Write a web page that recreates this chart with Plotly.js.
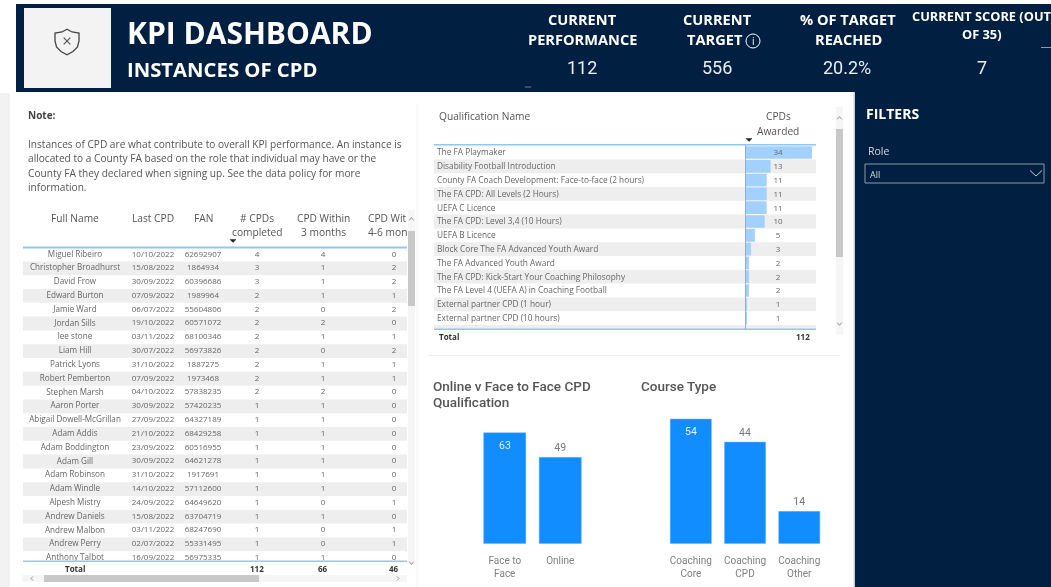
<!DOCTYPE html>
<html><head><meta charset="utf-8">
<script src="https://cdn.plot.ly/plotly-3.0.1.min.js"></script>
<style>html,body{margin:0;padding:0;background:#fff;overflow:hidden}#c{width:1051px;height:587px;filter:blur(0.5px)}</style>
</head><body><div id="c"></div>
<script>
// ---- Data ----
const pageTitle = "KPI DASHBOARD";
const pageSubtitle = "INSTANCES OF CPD";
const kpiLabels = [["CURRENT","PERFORMANCE"],["CURRENT","TARGET"],["% OF TARGET","REACHED"],["CURRENT SCORE (OUT","OF 35)"]];
const kpiValues = ["112","556","20.2%","7"];
const noteLines = ["Instances of CPD are what contribute to overall KPI performance. An instance is",
 "allocated to a County FA based on the role that individual may have or the",
 "County FA they declared when signing up. See the data policy for more",
 "information."];
const fullNames = ["Miguel Ribeiro","Christopher Broadhurst","David Frow","Edward Burton","Jamie Ward","Jordan Sills","lee stone","Liam Hill","Patrick Lyons","Robert Pemberton","Stephen Marsh","Aaron Porter","Abigail Dowell-McGrillan","Adam Addis","Adam Boddington","Adam Gill","Adam Robinson","Adam Windle","Alpesh Mistry","Andrew Daniels","Andrew Malbon","Andrew Perry","Anthony Talbot"];
const lastCpd = ["10/10/2022","15/08/2022","30/09/2022","07/09/2022","06/07/2022","19/10/2022","03/11/2022","30/07/2022","31/10/2022","07/09/2022","04/10/2022","30/09/2022","27/09/2022","21/10/2022","23/09/2022","30/09/2022","31/10/2022","14/10/2022","24/09/2022","15/08/2022","03/11/2022","02/07/2022","16/09/2022"];
const fan = ["62692907","1864934","60396686","1989964","55604806","60571072","68100346","56973826","1887275","1973468","57838235","57420235","64327189","68429258","60516955","64621278","1917691","57112600","64649620","63704719","68247690","55331495","56975335"];
const cpdsCompleted = [4,3,3,2,2,2,2,2,2,2,2,1,1,1,1,1,1,1,1,1,1,1,1];
const within3 = [4,1,1,1,0,2,1,0,1,1,2,1,1,1,1,1,1,1,0,1,0,0,1];
const within4to6 = [0,2,2,1,2,0,1,2,1,1,0,0,0,0,0,0,0,0,1,0,1,1,0];
const peopleTotals = [112,66,46];
const qualNames = ["The FA Playmaker","Disability Football Introduction","County FA Coach Development: Face-to-face (2 hours)","The FA CPD: All Levels (2 Hours)","UEFA C Licence","The FA CPD: Level 3,4 (10 Hours)","UEFA B Licence","Block Core The FA Advanced Youth Award","The FA Advanced Youth Award","The FA CPD: Kick-Start Your Coaching Philosophy","The FA Level 4 (UEFA A) in Coaching Football","External partner CPD (1 hour)","External partner CPD (10 hours)"];
const qualAwarded = [34,13,11,11,11,10,5,3,2,2,2,1,1];
const qualTotal = 112;
const deliveryCats = ["Face to<br>Face","Online"];
const deliveryVals = [63,49];
const courseCats = ["Coaching<br>Core","Coaching<br>CPD","Coaching<br>Other"];
const courseVals = [54,44,14];

// ---- Helpers (pixels to paper) ----
const W=1051,H=587;
const px=x=>x/W, py=y=>1-y/H;
const SANS='"Open Sans", sans-serif', DIN='Roboto, sans-serif';
const navy='#012041', grey='#666666', blue='#8fc6fb', stripe='#eeeeee';
const ann=[], shp=[];
function T(x,y,text,o={}){ann.push({xref:'paper',yref:'paper',x:px(x),y:py(y),text,showarrow:false,
  xanchor:o.a||'center',yanchor:'middle',align:o.a||'center',borderpad:0,
  font:{family:o.f||SANS,size:o.s||8,color:o.c||grey,weight:o.w||400}});}
function R(x0,y0,x1,y1,fill,o={}){shp.push({type:'rect',xref:'paper',yref:'paper',x0:px(x0),x1:px(x1),y0:py(y0),y1:py(y1),
  fillcolor:fill,line:{width:o.lw||0,color:o.lc||fill},layer:o.layer||'below'});}
function P(pts,color,lw,fill,closed){const d=pts.map((p,i)=>(i?'L':'M')+px(p[0]).toFixed(5)+' '+py(p[1]).toFixed(5)).join(' ')+(closed?' Z':'');
  shp.push({type:'path',xref:'paper',yref:'paper',path:d,line:{color:color,width:lw},fillcolor:fill||'rgba(0,0,0,0)',layer:'above'});}
const arrowDown=(x,y)=>P([[x-3,y-1.5],[x+3,y-1.5],[x,y+1.5]],'#222',0.5,'#222',true);
const chev=(x,y,s,up,c)=>P(up?[[x-s,y+s/1.6],[x,y-s/1.6],[x+s,y+s/1.6]]:[[x-s,y-s/1.6],[x,y+s/1.6],[x+s,y-s/1.6]],c||'#888',0.9);

// ---- Page furniture ----
R(0,93,10,587,'#f2f2f2');
R(16,4,1051,92,navy);
R(855,92,1051,587,navy);
R(853.5,92,855,587,'#c9ced6');
R(24,8,111,88,'#f3f3f3');
R(416.5,104,418,587,'#f7f7f7');
R(428,355,840,356,'#eeeeee');
R(525,86.5,531,87.5,'#6f7f96',{layer:'above'});
R(1041,47,1051,48,'#8d99aa',{layer:'above'});
// shield
P([[67,29.3],[62,32],[55,33],[55,41],[56.5,47],[61,51.5],[67,54.7],[73,51.5],[77.5,47],[79,41],[79,33],[72,32]],'#444',1.3,null,true);
P([[63.7,37.7],[70.3,44.3]],'#555',1.2); P([[70.3,37.7],[63.7,44.3]],'#555',1.2);

// ---- Header text ----
T(126,32,pageTitle,{a:'left',s:30,c:'#fff',w:700});
T(126,68.7,pageSubtitle,{a:'left',s:20.3,c:'#fff',w:700});
const kpiX=[582,717,848,981.5];
kpiLabels.forEach((l,i)=>{const big=i<3, y0=big?19:16.5, dy=big?20:18;
  l.forEach((t,j)=>T(kpiX[i]+(i==1&&j==1?-2:0),y0+j*dy,t,{s:big?14.6:12.8,c:'#fff',w:700}));});
kpiValues.forEach((v,i)=>T(kpiX[i]-(i==2?1:0),68,v,{s:18,c:'#e9edf2',f:DIN}));
shp.push({type:'circle',xref:'paper',yref:'paper',x0:px(746),x1:px(760),y0:py(48),y1:py(34),line:{color:'#fff',width:1},layer:'above'});
T(753,41,'i',{s:10,c:'#fff'});

// ---- Note ----
T(27,115,'Note:',{a:'left',s:10,c:'#444',w:700});
noteLines.forEach((l,i)=>T(27,144+i*14.4,l,{a:'left',s:10.15,c:'#555'}));

// ---- Left table ----
const colX=[75,153,203,257,323,394];
const L={l:23,r:407,t:247.6,b:561,rh:13.8};
const leftBottomRow=(L.b-L.t)/L.rh-0.5;
const HS=10.2;
for(let i=1;i<fullNames.length;i+=2) shp.push({type:'rect',xref:'x',yref:'y',x0:L.l,x1:L.r,y0:i-0.5,y1:i+0.5,fillcolor:stripe,line:{width:0},layer:'below'});
T(colX[0],218,'Full Name',{s:HS,c:'#555'});T(colX[1],218,'Last CPD',{s:HS,c:'#555'});T(colX[2],218,'FAN',{s:HS,c:'#555'});
T(colX[3],218,'# CPDs',{s:HS,c:'#555'});T(colX[3],232,'completed',{s:HS,c:'#555'});
T(colX[4],218,'CPD Within',{s:HS,c:'#555'});T(colX[4],232,'3 months',{s:HS,c:'#555'});
T(367,218,'CPD Wit',{a:'left',s:HS,c:'#555'});T(367,232,'4-6 mon',{a:'left',s:HS,c:'#555'});
arrowDown(233,241);
R(L.l,246.5,L.r,248.5,blue,{layer:'above'});
R(L.l,560.5,L.r,562,blue,{layer:'above'});
T(colX[0],568,'Total',{s:8,c:'#333',w:700});
peopleTotals.forEach((v,i)=>T(colX[i+3],568,String(v),{s:8,c:'#333',w:700}));
// scrollbars
R(408,210,415,565,'#f6f6f6');R(408,231,415,306,'#c8c8c8');chev(411.5,219,2.2,true);chev(411.5,563,2.2,false);
R(22,575,407,582,'#f6f6f6');R(44,575,259,582,'#c8c8c8');
P([[33,576.5],[31,578.5],[33,580.5]],'#888',0.9);P([[397,576.5],[399,578.5],[397,580.5]],'#888',0.9);

// ---- Right table ----
const Q={l:434,r:816,t:145.6,b:329,rh:13.8,bar0:745,unit:1.97,textDrop:0.06};
const qualBottomRow=(Q.b-Q.t)/Q.rh-0.5;
for(let i=1;i<=qualNames.length;i+=2) R(Q.l,Q.t+i*Q.rh,Q.r,Math.min(Q.b,Q.t+(i+1)*Q.rh),stripe);
T(438,116,'Qualification Name',{a:'left',s:HS,c:'#555'});
T(778,116,'CPDs',{s:HS,c:'#555'});T(778,131,'Awarded',{s:HS,c:'#555'});
arrowDown(749,140);
R(Q.l,144,Q.r,145.5,blue,{layer:'above'});
R(Q.l,328.5,Q.r,330,blue,{layer:'above'});
R(745,145,745.8,329,'#8ea4bd',{layer:'above'});
T(438,336.5,'Total',{a:'left',s:8,c:'#333',w:700});
T(811,336.5,String(qualTotal),{a:'right',s:8,c:'#333',w:700});
R(836,107,843,335,'#f6f6f6');R(836,129,843,257,'#c8c8c8');chev(839.5,118,2.2,true);chev(839.5,324,2.2,false);

// ---- Bar chart titles ----
const CT={a:'left',s:13.5,c:'#555',w:500,f:DIN};
T(432,386,'Online v Face to Face CPD',CT);
T(432,402,'Qualification',CT);
T(640,386,'Course Type',CT);

// ---- Filters ----
T(865,113.5,'FILTERS',{a:'left',s:14,c:'#fff',w:700});
T(867,151,'Role',{a:'left',s:10.5,c:'#d5dae2'});
R(865,164,1044,183,'rgba(0,0,0,0)',{lw:1,lc:'#8d99aa',layer:'above'});
T(869,174,'All',{a:'left',s:9,c:'#d5dae2'});
P([[1030,170.5],[1036,176],[1042,170.5]],'#c5ccd6',1);

// ---- Traces ----
const txt=(x,y,xa,ya,text,pos,color,size)=>({type:'scatter',mode:'text',x,y,xaxis:xa,yaxis:ya,text,textposition:pos||'middle center',
  textfont:{family:SANS,size:size||8,color:color||grey},hoverinfo:'skip',showlegend:false,cliponaxis:true});
const rows=fullNames.map((_,i)=>i), qrows=qualNames.map((_,i)=>i), qtext=qrows.map(i=>i+Q.textDrop);
const colVals=[fullNames,lastCpd,fan,cpdsCompleted.map(String),within3.map(String),within4to6.map(String)];
const traces=colVals.map((vals,c)=>txt(vals.map(()=>colX[c]),rows,'x','y',vals,null,null,c==0?8.15:8));
traces.push({type:'bar',orientation:'h',x:qualAwarded,y:qrows,xaxis:'x2',yaxis:'y2',width:0.92,marker:{color:'#a3d1ff',line:{width:0}},hoverinfo:'skip',showlegend:false});
traces.push(txt(qualNames.map(()=>437),qtext,'x3','y2',qualNames,'middle right',null,8.3));
traces.push(txt(qualAwarded.map(()=>778),qtext,'x3','y2',qualAwarded.map(String)));
// bar charts: the tallest bar's label sits inside the bar, the others above
function barTrace(cats,vals,xa,ya){
  return {type:'bar',x:cats,y:vals,xaxis:xa,yaxis:ya,marker:{color:'#118dff',line:{color:'#6fb8ff',width:0.5}},
  text:vals.map((v,i)=>i===0?'':String(v)),textposition:'outside',
  textfont:{family:DIN,size:10.5,color:'#777'},cliponaxis:false,hoverinfo:'skip',showlegend:false};
}
function insideLabel(vals,xa,ya){ann.push({xref:xa,yref:ya,x:0,y:vals[0],yshift:-12.5,text:String(vals[0]),showarrow:false,yanchor:'middle',
  font:{family:DIN,size:10.5,color:'#e6f2ff'}});}
traces.push(barTrace(deliveryCats,deliveryVals,'x4','y4'));insideLabel(deliveryVals,'x4','y4');
traces.push(barTrace(courseCats,courseVals,'x5','y5'));insideLabel(courseVals,'x5','y5');

const hid=(o)=>Object.assign({visible:false,fixedrange:true,showgrid:false,zeroline:false},o);
const catAxis=(o)=>Object.assign({type:'category',fixedrange:true,showgrid:false,zeroline:false,showline:false,ticks:'',ticklabelstandoff:9,
  tickangle:0,tickfont:{family:DIN,size:10,color:'#808080'}},o);
const layout={width:W,height:H,margin:{l:0,r:0,t:0,b:0,pad:0},paper_bgcolor:'#fff',plot_bgcolor:'rgba(0,0,0,0)',showlegend:false,bargap:0.24,
  xaxis:hid({domain:[px(L.l),px(L.r)],range:[L.l,L.r],anchor:'y'}),
  yaxis:hid({domain:[py(L.b),py(L.t)],range:[leftBottomRow,-0.5],anchor:'x'}),
  xaxis2:hid({domain:[px(Q.bar0),px(Q.r)],range:[0,(Q.r-Q.bar0)/Q.unit],anchor:'y2'}),
  yaxis2:hid({domain:[py(Q.b),py(Q.t)],range:[qualBottomRow,-0.5],anchor:'x2'}),
  xaxis3:hid({domain:[px(Q.l),px(Q.r)],range:[Q.l,Q.r],anchor:'y2'}),
  xaxis4:catAxis({domain:[px(477),px(588)],anchor:'y4'}),
  yaxis4:hid({domain:[py(543.7),py(420)],range:[0,70.2],anchor:'x4'}),
  xaxis5:catAxis({domain:[px(663.7),px(826.4)],anchor:'y5'}),
  yaxis5:hid({domain:[py(543.7),py(410)],range:[0,57.9],anchor:'x5'}),
  shapes:shp,annotations:ann};
Plotly.newPlot('c',traces,layout,{displayModeBar:false,staticPlot:true});
</script></body></html>
